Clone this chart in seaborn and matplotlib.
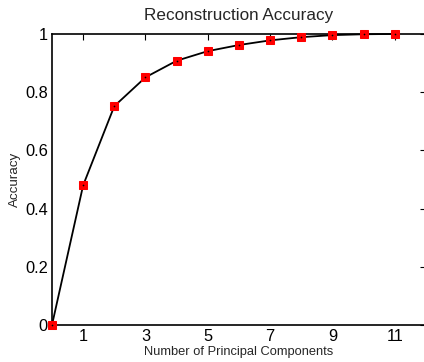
import matplotlib
matplotlib.use("Agg")
import matplotlib.pyplot as plt
import seaborn as sns
import pandas as pd

components = [0, 1, 2, 3, 4, 5, 6, 7, 8, 9, 10, 11]
accuracy = [0.0, 0.48, 0.752, 0.851, 0.908, 0.941, 0.962, 0.978, 0.989, 0.996, 0.999, 1.0]
xticks = [1, 3, 5, 7, 9, 11]
yticks = [0, 0.2, 0.4, 0.6, 0.8, 1.0]
ytick_labels = ["0", "0.2", "0.4", "0.6", "0.8", "1"]

sns.set_style("white")
plt.rcParams['font.family'] = ['Liberation Sans', 'DejaVu Sans']

df = pd.DataFrame({"k": components, "acc": accuracy})

fig = plt.figure(figsize=(4.24, 3.62), dpi=100)
ax = fig.add_axes([0.1226, 0.1022, 0.882, 0.804])

sns.lineplot(data=df, x="k", y="acc", ax=ax, color="black", linewidth=1.3,
             marker="s", markersize=6, markerfacecolor="red", markeredgecolor="red",
             clip_on=False, zorder=3)
sns.scatterplot(data=df, x="k", y="acc", ax=ax, color="black", s=1.5,
                linewidth=0, clip_on=False, zorder=4)

ax.set_xlim(0, 12)
ax.set_ylim(0, 1)
ax.set_xticks(xticks)
ax.set_xticklabels([str(t) for t in xticks])
ax.set_yticks(yticks)
ax.set_yticklabels(ytick_labels)
ax.tick_params(direction="in", length=4, width=0.8, top=True, right=True,
               labelsize=11.8, pad=3, colors="black")
for s in ax.spines.values():
    s.set_color("black")
    s.set_linewidth(1.2)

ax.set_title("Reconstruction Accuracy", fontsize=12.3, pad=10)
ax.set_xlabel("Number of Principal Components", fontsize=9.3, labelpad=1)
ax.set_ylabel("Accuracy", fontsize=9.6, labelpad=3)

fig.savefig("out.png", dpi=100)
